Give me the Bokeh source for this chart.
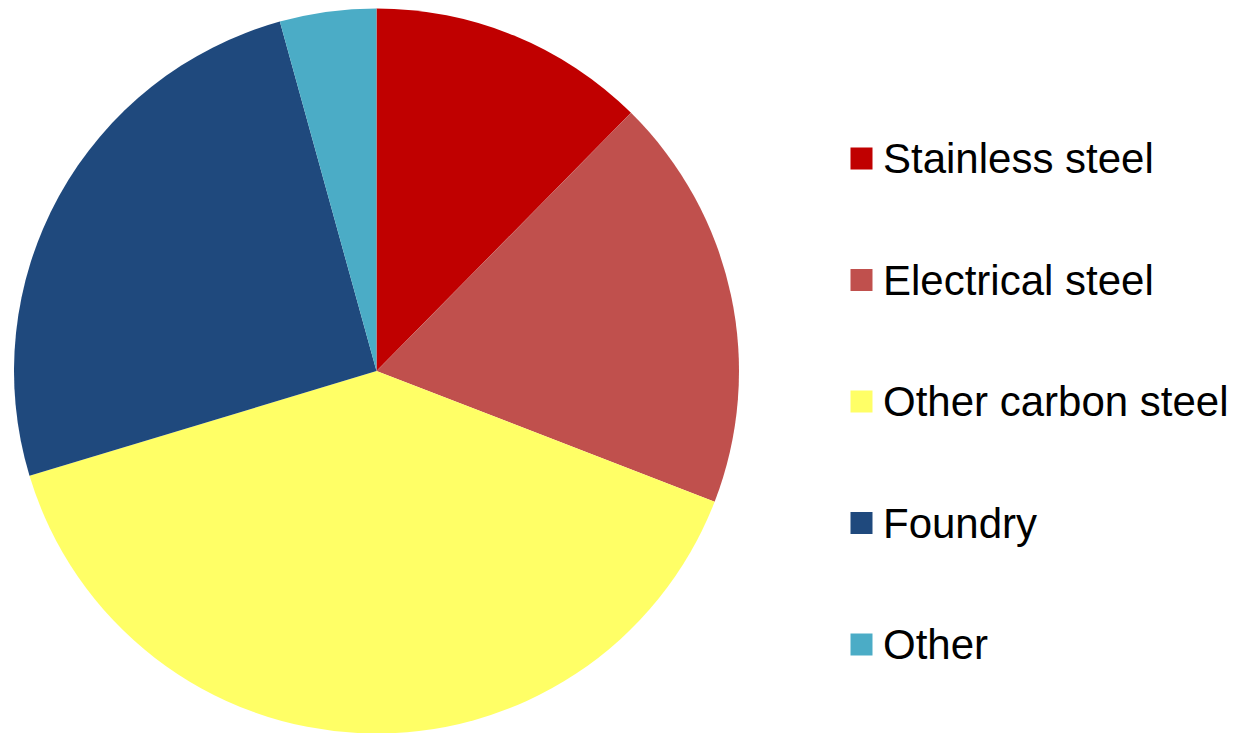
import numpy as np
from bokeh.plotting import figure
from bokeh.models import Range1d, ColumnDataSource
from bokeh.core.properties import value
from bokeh.embed import file_html
from bokeh.resources import INLINE

categories = ["Stainless steel", "Electrical steel", "Other carbon steel", "Foundry", "Other"]
shares = [12.4, 18.5, 39.5, 25.4, 4.3]
colors = ["#C00000", "#C0504D", "#FFFF66", "#1F497D", "#4BACC6"]

W, H = 1236, 733
p = figure(width=W, height=H, output_backend="svg", toolbar_location=None,
           x_range=Range1d(0, W), y_range=Range1d(0, H), min_border=0)
p.axis.visible = False
p.grid.visible = False
p.outline_line_color = None
p.background_fill_color = "white"
p.border_fill_color = "white"

vals = np.array(shares, dtype=float)
frac = vals / vals.sum()
cum_end = np.cumsum(frac)
cum_start = cum_end - frac
start = np.pi / 2 - cum_start * 2 * np.pi
end = np.pi / 2 - cum_end * 2 * np.pi

cx, cy, r = 376, H - 370.5, 362.5
src = ColumnDataSource(dict(start=start, end=end, color=colors, cat=categories))
p.wedge(x=cx, y=cy, radius=r, start_angle="start", end_angle="end",
        direction="clock", fill_color="color", line_color=None, source=src)

# legend (manual)
row0, step = 158, 121.5
ys = [H - (row0 + i * step) for i in range(len(categories))]
p.rect(x=[861] * len(categories), y=ys, width=22, height=22,
       fill_color=colors, line_color=None)
p.text(x=[882.5] * len(categories), y=ys, text=categories,
       text_font=value("Liberation Sans"), text_font_size="42px",
       text_color="black", text_baseline="middle", text_align="left")

open("out.html", "w").write(file_html(p, INLINE))
